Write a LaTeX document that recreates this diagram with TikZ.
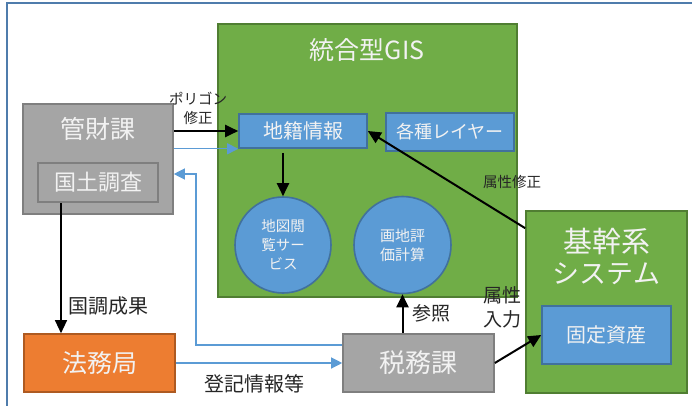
\documentclass[tikz,border=0pt]{standalone}
\usepackage{fontspec}
\setmainfont{Noto Sans CJK JP}
\usetikzlibrary{arrows.meta}
\definecolor{gisgreen}{HTML}{70AD47}
\definecolor{gisdark}{HTML}{507E32}
\definecolor{grayfill}{HTML}{A5A5A5}
\definecolor{graydark}{HTML}{7F7F7F}
\definecolor{bluefill}{HTML}{5B9BD5}
\definecolor{bluedark}{HTML}{41719C}
\definecolor{orangefill}{HTML}{ED7D31}
\definecolor{orangedark}{HTML}{AE5A21}
\definecolor{framecol}{HTML}{4F7CAC}
\definecolor{labelcol}{HTML}{262626}
\definecolor{whitetext}{HTML}{F2F2F2}
\tikzset{
  x=1pt, y=1pt,
  boxbase/.style={rectangle, inner sep=0pt, line width=1.6pt, text=whitetext},
  gisbox/.style={boxbase, fill=gisgreen, draw=gisdark},
  graybox/.style={boxbase, fill=grayfill, draw=graydark},
  bluebox/.style={boxbase, fill=bluefill, draw=bluedark},
  orangebox/.style={boxbase, fill=orangefill, draw=orangedark},
  bluecircle/.style={circle, inner sep=0pt, line width=1.6pt, fill=bluefill, draw=bluedark, text=whitetext, align=center},
  wtext/.style={inner sep=0pt, text=whitetext},
  lbl/.style={inner sep=0pt, text=labelcol, align=center},
  blk/.style={draw=black, line width=2pt, -{Triangle[length=13pt,width=12pt]}},
  thinblk/.style={draw=black, line width=1.2pt, -{Triangle[length=13pt,width=12pt]}},
  bluearrow/.style={draw=bluefill, line width=1.2pt, -{Triangle[length=11pt,width=11pt]}},
}
\begin{document}
\begin{tikzpicture}
\useasboundingbox[fill=white] (0,0) rectangle (692,-406);
\draw[framecol, line width=1.5pt] (7,-406) -- (7,-3) -- (692,-3);

% GIS block
\node[gisbox, minimum width=299pt, minimum height=273pt] (gis) at (367.5,-160.5) {};
\node[wtext, font=\fontsize{25}{28}\selectfont] (gistitle) at (367,-50) {統合型GIS};
\node[bluebox, minimum width=128pt, minimum height=34pt, font=\fontsize{20}{22}\selectfont] (chiseki) at (303,-131) {地籍情報};
\node[bluebox, minimum width=128pt, minimum height=38pt, font=\fontsize{18}{20}\selectfont] (layer) at (450,-132) {各種レイヤー};
\node[bluecircle, minimum size=96pt, font=\fontsize{14.5}{19}\selectfont] (c1) at (283,-245) {地図閲\\覧サー\\ビス};
\node[bluecircle, minimum size=97pt, font=\fontsize{15}{19}\selectfont] (c2) at (402.5,-245) {画地評\\価計算};

% 管財課
\node[graybox, minimum width=150pt, minimum height=110pt] (kanzai) at (98,-159) {};
\node[wtext, font=\fontsize{25}{28}\selectfont] (kanzaitxt) at (98,-129) {管財課};
\node[graybox, minimum width=120pt, minimum height=39pt, font=\fontsize{22}{24}\selectfont] (kokudo) at (98,-182.5) {国土調査};

% 基幹系システム
\node[gisbox, minimum width=161pt, minimum height=182pt] (kikan) at (606.5,-302) {};
\node[wtext, font=\fontsize{29}{32}\selectfont] (kikantxt1) at (606.5,-241) {基幹系};
\node[wtext, font=\fontsize{27}{30}\selectfont] (kikantxt2) at (606.5,-274) {システム};
\node[bluebox, minimum width=129pt, minimum height=58pt, font=\fontsize{20}{22}\selectfont] (kotei) at (606.5,-335) {固定資産};

% 税務課, 法務局
\node[graybox, minimum width=151pt, minimum height=58pt, font=\fontsize{26}{28}\selectfont] (zeimu) at (418.5,-363) {税務課};
\node[orangebox, minimum width=151pt, minimum height=58pt, font=\fontsize{25}{28}\selectfont] (houmu) at (99.5,-363) {法務局};

% labels
\node[lbl, font=\fontsize{14.5}{19}\selectfont] (lpoly) at (198,-108) {ポリゴン\\修正};
\node[lbl, font=\fontsize{14.5}{16}\selectfont] (lzoku) at (512,-182) {属性修正};
\node[lbl, font=\fontsize{20}{22}\selectfont] (lkoku) at (108,-306) {国調成果};
\node[lbl, font=\fontsize{20}{22}\selectfont] (ltouki) at (254,-384) {登記情報等};
\node[lbl, font=\fontsize{19}{21}\selectfont] (lsan) at (431,-313) {参照};
\node[lbl, font=\fontsize{19}{24}\selectfont] (lnyu) at (502,-307) {属性\\入力};

% connectors
\draw[blk] (kanzai.east |- chiseki.west) -- (chiseki.west);
\draw[bluearrow] (kanzai.east |- chiseki.south west) -- (chiseki.south west);
\draw[bluearrow] (zeimu.west |- 0,-345) -- (196,-345) -- (196,-174) -- (kanzai.east |- 0,-174);
\draw[bluearrow] (houmu.east) -- (zeimu.west);
\draw[thinblk] (kokudo.south -| 61,0) -- (houmu.north -| 61,0);
\draw[blk, shorten <=4pt] (c1.north |- chiseki.south) -- (c1.north);
\draw[blk] (c2.south |- zeimu.north) -- (c2.south);
\draw[blk] (zeimu.east) -- (kotei.west);
\draw[blk] ([yshift=-18pt]kikan.north west) -- (chiseki.east);
\end{tikzpicture}
\end{document}
